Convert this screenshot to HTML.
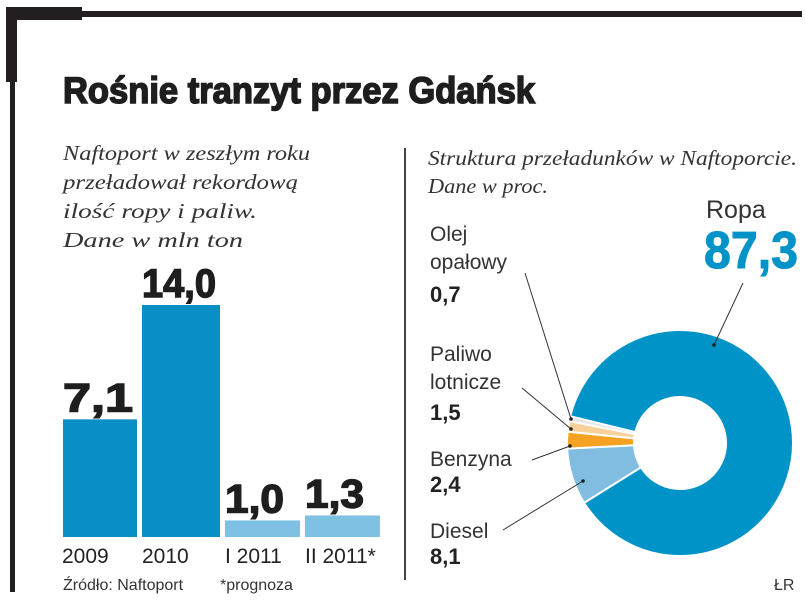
<!DOCTYPE html>
<html><head><meta charset="utf-8">
<style>
html,body{margin:0;padding:0;background:#fff;}
svg{display:block;font-family:"Liberation Sans",sans-serif;}
.it{font-family:"Liberation Serif",serif;font-style:italic;font-size:21px;fill:#333;}
.lab{font-size:21px;fill:#333;}
.val{font-size:22px;font-weight:bold;fill:#222;}
</style></head>
<body>
<svg id="c" width="805" height="603" viewBox="0 0 805 603">
 <g>
  <rect x="6" y="7" width="76" height="13" fill="#231f20"/>
  <rect x="6" y="7" width="11" height="75" fill="#231f20"/>
  <rect x="10" y="80" width="5" height="512" fill="#231f20"/>
  <rect x="80" y="11" width="722" height="6" fill="#231f20"/>
 </g>
 <text x="63" y="103" font-size="37" font-weight="bold" fill="#1e1e1e" stroke="#1e1e1e" stroke-width="1.6" textLength="472" lengthAdjust="spacingAndGlyphs">Rośnie tranzyt przez Gdańsk</text>
 <g>
  <text class="it" x="63" y="160" textLength="247" lengthAdjust="spacingAndGlyphs">Naftoport w zeszłym roku</text>
  <text class="it" x="63" y="189" textLength="235" lengthAdjust="spacingAndGlyphs">przeładował rekordową</text>
  <text class="it" x="63" y="218" textLength="194" lengthAdjust="spacingAndGlyphs">ilość ropy i paliw.</text>
  <text class="it" x="63" y="247" textLength="180" lengthAdjust="spacingAndGlyphs">Dane w mln ton</text>
 </g>
 <rect x="404" y="148" width="2" height="432" fill="#444"/>
 <g>
  <text class="it" x="428" y="165" textLength="369" lengthAdjust="spacingAndGlyphs">Struktura przeładunków w Naftoporcie.</text>
  <text class="it" x="428" y="193" textLength="120" lengthAdjust="spacingAndGlyphs">Dane w proc.</text>
 </g>
 <g id="bars"></g>
 <g id="donut"></g>
 <text x="63" y="590" font-size="16" fill="#333">Źródło: Naftoport</text>
 <text x="220" y="590" font-size="16" fill="#333">*prognoza</text>
 <text x="774" y="590" font-size="16" fill="#333">ŁR</text>
</svg>
<script>
const barCats = ["2009","2010","I 2011","II 2011*"];
const barVals = [7.1,14.0,1.0,1.3];
const barLabels = ["7,1","14,0","1,0","1,3"];
const sliceNames = ["Diesel","Benzyna","Paliwo lotnicze","Olej opałowy","Ropa"];
const sliceVals = [8.1,2.4,1.5,0.7,87.3];
const sliceLabels = ["8,1","2,4","1,5","0,7","87,3"];

const NS="http://www.w3.org/2000/svg";
function mk(tag,attrs,parent){const e=document.createElementNS(NS,tag);for(const k in attrs)e.setAttribute(k,attrs[k]);parent.appendChild(e);return e;}

// bars
const bg=document.getElementById('bars');
const base=537, scale=232/14;
const yv=v=>base-v*scale;
const bx=[63,142,225,305], bw=[74,78,75,75];
const barColors=["#0a8fc4","#0a8fc4","#7fc1e3","#7fc1e3"];
barVals.forEach((v,i)=>{
  const r=mk('rect',{x:bx[i],y:yv(v),width:bw[i],height:base-yv(v),fill:barColors[i]},bg);
  
  
  const t=mk('text',{x:bx[i],y:yv(v)-8,'font-size':40,'font-weight':'bold',fill:'#1e1e1e',stroke:'#1e1e1e','stroke-width':1.4,textLength:bw[i]-(i<2?4:16),lengthAdjust:'spacingAndGlyphs'},bg);
  t.textContent=barLabels[i];
  
  
  const c=mk('text',{x:bx[i]+(i===0?-1:0),y:563,'font-size':21,fill:'#222'},bg);
  c.textContent=barCats[i];
  
  
});

// donut
const dg=document.getElementById('donut');
const cx=680, cy=443, R=113, r0=46;
const colors=["#80bde0","#f5a122","#f8d09c","#e4e4e4","#0093c8"];
const total=sliceVals.reduce((a,b)=>a+b,0);
let ang=148*Math.PI/180;
const pt=(rad,a)=>[cx+rad*Math.cos(a),cy+rad*Math.sin(a)];
sliceVals.forEach((v,i)=>{
  const a0=ang, a1=ang+v/total*2*Math.PI; ang=a1;
  const large=(a1-a0)>Math.PI?1:0;
  const p1=pt(R,a0),p2=pt(R,a1),p3=pt(r0,a1),p4=pt(r0,a0);
  const p=mk('path',{d:`M${p1}A${R},${R} 0 ${large} 1 ${p2}L${p3}A${r0},${r0} 0 ${large} 0 ${p4}Z`,fill:colors[i],stroke:'#fff','stroke-width':2},dg);
  
  
});
function lines(arr,x,y,lh,parent){arr.forEach((s,k)=>{const t=mk('text',{x:x,y:y+k*lh,class:'lab'},parent);t.textContent=s;});}
const lg=mk('g',{},dg);


lines(["Olej","opałowy"],430,241,28,lg);
mk('text',{x:430,y:302,class:'val'},lg).textContent=sliceLabels[3];
lines(["Paliwo","lotnicze"],430,361,28,lg);
mk('text',{x:430,y:420,class:'val'},lg).textContent=sliceLabels[2];
lines(["Benzyna"],430,466,28,lg);
mk('text',{x:430,y:492,class:'val'},lg).textContent=sliceLabels[1];
lines(["Diesel"],430,538,28,lg);
mk('text',{x:430,y:564,class:'val'},lg).textContent=sliceLabels[0];
mk('text',{x:706,y:218,'font-size':25,fill:'#333'},lg).textContent="Ropa";
mk('text',{x:704,y:268,'font-size':52,'font-weight':'bold',fill:'#0093c8',stroke:'#0093c8','stroke-width':1,textLength:94,lengthAdjust:'spacingAndGlyphs'},lg).textContent=sliceLabels[4];
const L=[[525,273,571,419],[522,388,571,429],[532,460,570,446],[503,530,583,481],[743,283,714,345]];
L.forEach(l=>{mk('line',{x1:l[0],y1:l[1],x2:l[2],y2:l[3],stroke:'#333','stroke-width':1},lg);mk('circle',{cx:l[2],cy:l[3],r:1.8,fill:'#222'},lg);});
</script>
</body></html>
